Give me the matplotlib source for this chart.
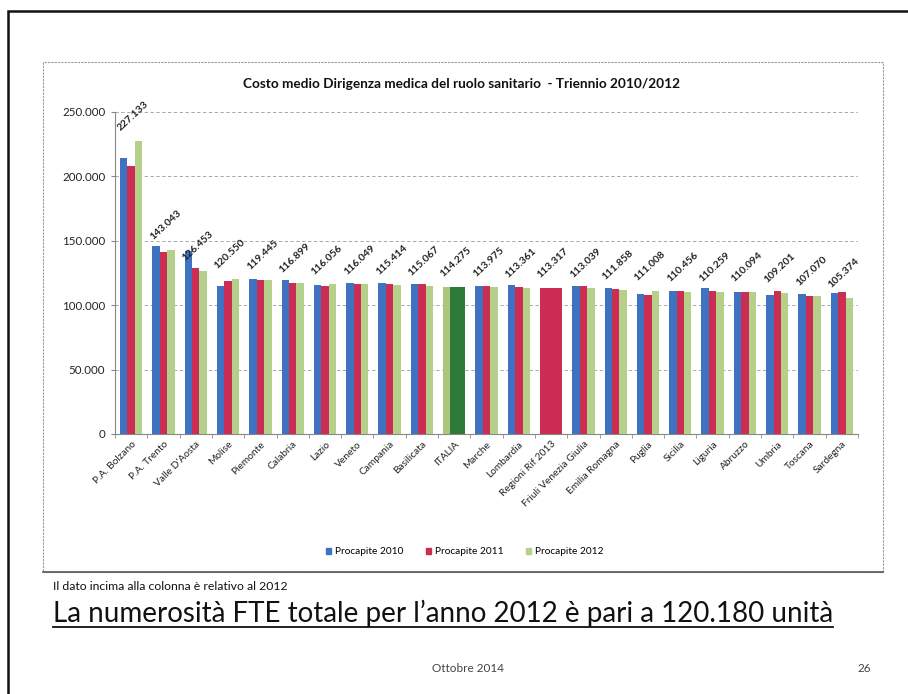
import matplotlib
matplotlib.use("Agg")
import matplotlib.pyplot as plt
from matplotlib.patches import Rectangle, Patch
from matplotlib.ticker import FuncFormatter
import numpy as np

plt.rcParams['font.family'] = ['Lato', 'DejaVu Sans']

# Data
regions = ['P.A. Bolzano', 'P.A. Trento', "Valle D'Aosta", 'Molise', 'Piemonte',
           'Calabria', 'Lazio', 'Veneto', 'Campania', 'Basilicata', 'ITALIA',
           'Marche', 'Lombardia', 'Regioni Rif 2013', 'Friuli Venezia Giulia',
           'Emilia Romagna', 'Puglia', 'Sicilia', 'Liguria', 'Abruzzo', 'Umbria',
           'Toscana', 'Sardegna']
procapite_2010 = [214000, 146000, 141900, 114900, 120200, 119700, 115800, 117300,
                  117400, 116600, 114300, 114500, 115400, 113317, 114600, 112900,
                  108900, 111200, 113600, 110400, 107700, 108900, 109000]
procapite_2011 = [208000, 141500, 129000, 118500, 119800, 117000, 115000, 116500,
                  116700, 116600, 114275, 114600, 114100, 113317, 114600, 112600,
                  107700, 111200, 111000, 110400, 111300, 107400, 109800]
procapite_2012 = [227133, 143043, 126453, 120550, 119445, 116899, 116056, 116049,
                  115414, 115067, 114275, 113975, 113361, 113317, 113039, 111858,
                  111008, 110456, 110259, 110094, 109201, 107070, 105374]
series_names = ['Procapite 2010', 'Procapite 2011', 'Procapite 2012']

BLUE, RED, GREEN = '#3f72c0', '#cc2d52', '#b5d08a'
DARK_GREEN = '#2e7a3a'
# highlighted groups: ITALIA in green, regioni di riferimento in red
special = {10: ['#a9c67c', DARK_GREEN, DARK_GREEN], 13: [RED, RED, RED]}


def thousands(v, _pos):
    return '0' if v == 0 else f"{int(v):,}".replace(',', '.')


fig = plt.figure(figsize=(9.08, 6.94), dpi=100)

# slide frame and chart box
fig.add_artist(Rectangle((8 / 908, -0.1), 1.1, 1.1 - 11 / 694, transform=fig.transFigure,
                         fill=False, edgecolor='#111111', linewidth=1.8, clip_on=False))
fig.add_artist(Rectangle((43 / 908, 1 - 572 / 694), (883 - 43) / 908, (572 - 62) / 694,
                         transform=fig.transFigure, fill=False, edgecolor='#9a9a9a',
                         linewidth=0.8, linestyle=(0, (2, 1))))
fig.add_artist(plt.Line2D([43 / 908, 883 / 908], [1 - 572 / 694] * 2, color='#555555',
                          linewidth=1.2, transform=fig.transFigure))

ax = fig.add_axes([115 / 908, 1 - 434 / 694, (858 - 115) / 908, (434 - 111.7) / 694])

x = np.arange(len(regions))
w = 0.23
for k, vals in enumerate([procapite_2010, procapite_2011, procapite_2012]):
    cols = [special[i][k] if i in special else [BLUE, RED, GREEN][k] for i in range(len(regions))]
    ax.bar(x + (k - 1) * w, vals, width=w, color=cols, edgecolor='none', zorder=3)

for i, v in enumerate(procapite_2012):
    ax.annotate(thousands(v, None), (i, v), xytext=(-6.5, 6), textcoords='offset points',
                rotation=43, rotation_mode='anchor', ha='left', va='bottom',
                fontsize=7.5, color='#222222', fontweight='bold')

ax.set_xlim(-0.5, len(regions) - 0.5)
ax.set_ylim(0, 250000)
ax.set_yticks(np.arange(0, 250001, 50000))
ax.yaxis.set_major_formatter(FuncFormatter(thousands))
ax.grid(axis='y', color='#9a9a9a', linestyle=(0, (4, 3)), linewidth=0.6, zorder=0)

ax.set_xticks(x)
ax.set_xticklabels(regions, rotation=45, ha='right', rotation_mode='anchor',
                   fontsize=7.3, color='#222222')
ax.set_xticks(np.arange(-0.5, len(regions), 1), minor=True)
ax.tick_params(axis='x', which='major', length=0, pad=4)
ax.tick_params(axis='x', which='minor', length=3, color='#888888')
ax.tick_params(axis='y', length=3, color='#888888', labelsize=8.3, labelcolor='#222222', pad=4)

for s in ['top', 'right']:
    ax.spines[s].set_visible(False)
for s in ['left', 'bottom']:
    ax.spines[s].set_color('#888888')
    ax.spines[s].set_linewidth(0.8)

fig.text(462 / 908, 1 - 84 / 694, 'Costo medio Dirigenza medica del ruolo sanitario  - Triennio 2010/2012',
         ha='center', va='center', fontsize=9.8, fontweight='bold', color='#111111')

handles = [Patch(color=c) for c in [BLUE, RED, GREEN]]
fig.legend(handles, series_names, loc='center', bbox_to_anchor=(465 / 908, 1 - 552 / 694),
           ncol=3, frameon=False, fontsize=7.3, handlelength=0.5, handleheight=0.5,
           handletextpad=0.4, columnspacing=2.2)

fig.text(53 / 908, 1 - 586 / 694, 'Il dato incima alla colonna è relativo al 2012',
         ha='left', va='center', fontsize=8.8, color='#111111')
fig.text(53 / 908, 1 - 622 / 694, 'La numerosità FTE totale per l’anno 2012 è pari a 120.180 unità',
         ha='left', va='baseline', fontsize=20, color='#111111')
fig.add_artist(plt.Line2D([53 / 908, 833 / 908], [1 - 627 / 694] * 2, color='#111111',
                          linewidth=1.3, transform=fig.transFigure))
fig.text(468 / 908, 1 - 668 / 694, 'Ottobre 2014', ha='center', va='center',
         fontsize=8.5, color='#444444')
fig.text(864 / 908, 1 - 668 / 694, '26', ha='center', va='center',
         fontsize=8.5, color='#444444')

fig.savefig('out.png', dpi=100)
